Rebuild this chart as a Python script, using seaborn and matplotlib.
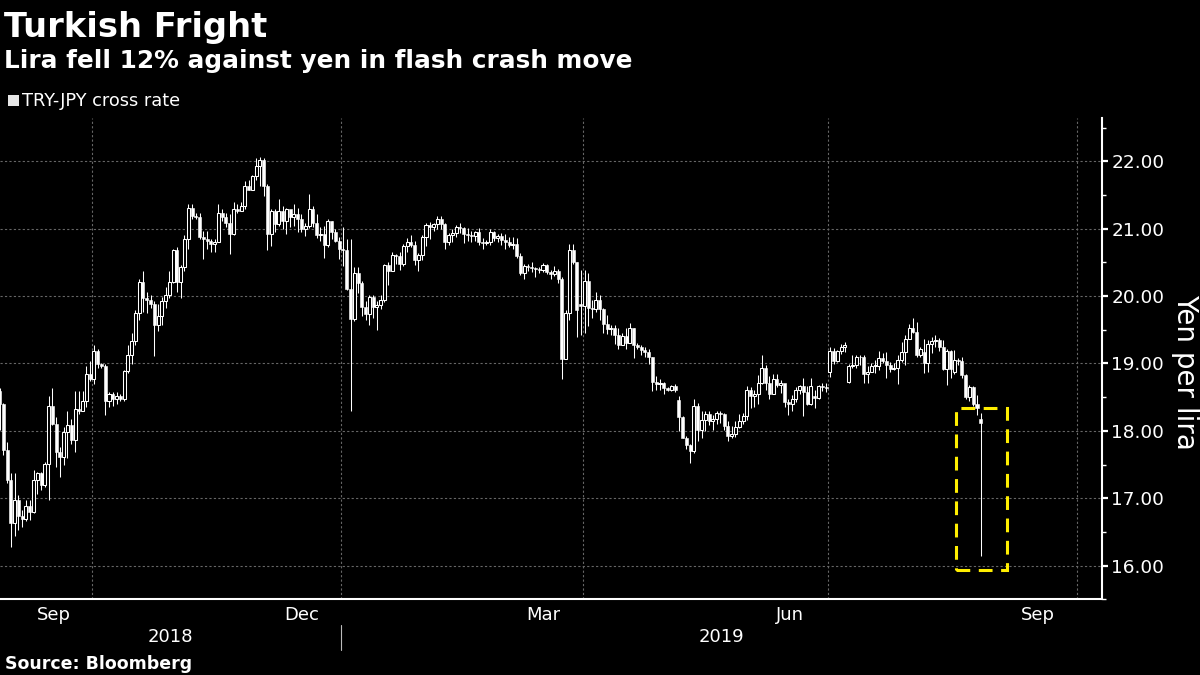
import numpy as np
import pandas as pd
import matplotlib
matplotlib.use("Agg")
import matplotlib.pyplot as plt
import matplotlib.transforms as mtransforms
from matplotlib.patches import Rectangle
import seaborn as sns

# ---------------- data (TRY-JPY daily candles) ----------------
start_date = "2018-08-27"
end_date = "2019-08-26"

opens = [
    18.59, 18.40, 17.71, 17.27, 16.63, 16.98, 16.73, 16.69, 16.88, 16.80,
    17.27, 17.37, 17.20, 17.51, 18.37, 18.10, 17.69, 17.61, 17.98, 18.08,
    17.86, 18.32, 18.30, 18.45, 18.84, 18.77, 19.18, 18.99, 18.96, 18.45,
    18.54, 18.47, 18.51, 18.47, 18.89, 19.13, 19.33, 19.75, 20.21, 19.97,
    19.94, 19.89, 19.57, 19.70, 19.92, 20.02, 20.21, 20.68, 20.21, 20.43,
    20.85, 21.31, 21.19, 21.17, 20.87, 20.85, 20.82, 20.78, 20.81, 21.24,
    21.17, 21.09, 20.92, 21.29, 21.27, 21.34, 21.63, 21.58, 21.78, 21.93,
    22.02, 21.63, 20.92, 21.27, 21.07, 21.27, 21.12, 21.29, 21.17, 21.22,
    21.14, 21.00, 21.04, 21.29, 21.09, 20.90, 20.92, 20.76, 21.12, 20.95,
    20.82, 20.70, 20.69, 20.11, 19.66, 20.34, 20.19, 19.84, 19.74, 19.98,
    19.84, 19.87, 19.94, 20.46, 20.38, 20.61, 20.59, 20.47, 20.75, 20.80,
    20.76, 20.53, 20.61, 20.87, 21.06, 21.03, 21.07, 21.14, 21.07, 20.81,
    20.91, 20.94, 21.03, 21.01, 20.92, 20.91, 20.89, 20.95, 20.81, 20.79,
    20.80, 20.95, 20.86, 20.89, 20.84, 20.81, 20.76, 20.77, 20.59, 20.35,
    20.44, 20.43, 20.42, 20.40, 20.39, 20.46, 20.36, 20.33, 20.38, 20.25,
    19.07, 19.75, 20.68, 20.50, 19.89, 19.86, 20.22, 19.82, 19.81, 19.94,
    19.81, 19.58, 19.51, 19.53, 19.42, 19.28, 19.41, 19.30, 19.53, 19.27,
    19.25, 19.20, 19.17, 19.09, 18.73, 18.69, 18.71, 18.64, 18.61, 18.66,
    18.46, 18.21, 17.90, 17.79, 17.70, 18.37, 18.02, 18.16, 18.25, 18.14,
    18.17, 18.27, 18.25, 18.07, 17.93, 17.96, 18.06, 18.14, 18.22, 18.60,
    18.51, 18.54, 18.71, 18.93, 18.71, 18.55, 18.77, 18.68, 18.71, 18.43,
    18.40, 18.47, 18.60, 18.66, 18.58, 18.40, 18.51, 18.49, 18.66, 18.65,
    18.87, 19.18, 19.03, 19.18, 19.24, 18.72, 18.96, 18.98, 19.10, 19.09,
    18.84, 18.88, 18.96, 18.97, 19.08, 19.04, 18.98, 18.92, 18.94, 19.05,
    19.17, 19.37, 19.53, 19.47, 19.13, 19.17, 19.01, 19.29, 19.33, 19.35,
    19.24, 18.92, 19.19, 18.87, 19.05, 19.03, 18.83, 18.50, 18.65, 18.40,
    18.18,
]

highs = [
    18.64, 18.42, 17.83, 17.37, 17.37, 17.05, 16.83, 16.98, 16.98, 17.42,
    17.39, 17.39, 17.54, 18.52, 18.64, 18.20, 17.76, 18.05, 18.30, 18.18,
    18.59, 18.59, 18.59, 18.96, 19.03, 19.28, 19.21, 19.01, 18.99, 18.57,
    18.57, 18.57, 18.54, 18.91, 19.28, 19.45, 19.79, 20.26, 20.38, 20.06,
    20.02, 19.92, 19.89, 19.99, 20.14, 20.38, 20.70, 20.73, 20.46, 20.90,
    21.36, 21.36, 21.24, 21.24, 20.97, 20.97, 20.85, 20.85, 21.36, 21.29,
    21.24, 21.22, 21.39, 21.36, 21.39, 21.71, 21.73, 21.80, 22.05, 22.07,
    22.05, 21.66, 21.29, 21.29, 21.44, 21.34, 21.31, 21.24, 21.36, 21.31,
    21.22, 21.09, 21.52, 21.34, 21.22, 21.02, 21.04, 21.14, 21.12, 21.00,
    20.87, 21.03, 20.85, 20.85, 20.43, 20.43, 20.22, 19.92, 20.02, 20.02,
    19.92, 20.02, 20.48, 20.50, 20.65, 20.63, 20.65, 20.77, 20.86, 20.90,
    20.82, 20.64, 20.90, 21.08, 21.10, 21.09, 21.19, 21.19, 21.09, 20.94,
    21.00, 21.05, 21.09, 21.03, 21.01, 20.96, 20.97, 21.01, 20.86, 20.84,
    20.99, 20.97, 20.92, 20.94, 20.92, 20.88, 20.87, 20.86, 20.64, 20.47,
    20.48, 20.51, 20.43, 20.43, 20.49, 20.48, 20.39, 20.44, 20.40, 20.29,
    19.80, 20.77, 20.77, 20.51, 20.39, 20.39, 20.35, 19.94, 20.06, 20.02,
    19.82, 19.72, 19.57, 19.57, 19.52, 19.45, 19.52, 19.60, 19.53, 19.31,
    19.27, 19.25, 19.22, 19.10, 18.81, 18.77, 18.73, 18.65, 18.68, 18.70,
    18.52, 18.22, 17.93, 17.81, 18.47, 18.42, 18.29, 18.29, 18.29, 18.24,
    18.30, 18.30, 18.27, 18.14, 18.07, 18.14, 18.25, 18.27, 18.66, 18.65,
    18.60, 18.83, 19.13, 18.98, 18.81, 18.84, 18.84, 18.76, 18.70, 18.47,
    18.53, 18.65, 18.68, 18.78, 18.66, 18.79, 18.60, 18.68, 18.71, 18.71,
    19.24, 19.23, 19.20, 19.29, 19.32, 18.99, 19.13, 19.13, 19.12, 19.12,
    18.96, 19.01, 19.05, 19.19, 19.15, 19.17, 19.02, 19.01, 19.13, 19.32,
    19.42, 19.58, 19.68, 19.62, 19.25, 19.36, 19.35, 19.40, 19.43, 19.38,
    19.35, 19.22, 19.20, 19.20, 19.08, 19.10, 18.84, 18.68, 18.66, 18.53,
    18.26,
]

lows = [
    18.01, 17.64, 17.22, 16.27, 16.44, 16.53, 16.58, 16.66, 16.68, 16.78,
    17.07, 17.12, 17.17, 16.98, 18.08, 17.47, 17.32, 17.49, 17.59, 17.81,
    17.69, 18.25, 18.30, 18.35, 18.74, 18.69, 18.94, 18.94, 18.23, 18.35,
    18.37, 18.40, 18.45, 18.45, 18.86, 18.99, 19.28, 19.65, 19.77, 19.75,
    19.82, 19.11, 19.48, 19.57, 19.82, 19.97, 20.19, 20.06, 19.97, 20.38,
    20.70, 21.14, 21.14, 20.85, 20.55, 20.70, 20.65, 20.65, 20.80, 21.12,
    21.02, 20.63, 20.90, 21.24, 21.27, 21.29, 21.57, 21.58, 21.73, 21.63,
    21.49, 20.68, 20.75, 20.95, 21.04, 21.00, 20.92, 21.02, 21.04, 20.95,
    20.95, 20.89, 21.01, 21.02, 20.86, 20.82, 20.56, 20.73, 20.85, 20.80,
    20.55, 20.45, 20.09, 18.29, 19.63, 20.05, 19.70, 19.65, 19.57, 19.67,
    19.50, 19.81, 19.91, 20.17, 20.37, 20.48, 20.39, 20.45, 20.66, 20.73,
    20.46, 20.38, 20.53, 20.74, 20.85, 20.96, 21.00, 20.99, 20.70, 20.76,
    20.81, 20.87, 20.94, 20.79, 20.82, 20.80, 20.82, 20.76, 20.70, 20.76,
    20.76, 20.82, 20.81, 20.76, 20.70, 20.73, 20.70, 20.57, 20.31, 20.25,
    20.37, 20.36, 20.28, 20.34, 20.36, 20.33, 20.26, 20.30, 20.20, 18.77,
    19.08, 19.64, 20.48, 19.40, 19.42, 19.45, 19.56, 19.67, 19.77, 19.64,
    19.45, 19.44, 19.42, 19.29, 19.22, 19.27, 19.22, 19.30, 19.08, 19.22,
    19.13, 19.10, 18.99, 18.59, 18.60, 18.61, 18.55, 18.59, 18.59, 18.58,
    18.00, 17.89, 17.73, 17.52, 17.67, 17.85, 17.90, 18.00, 18.09, 18.01,
    18.10, 18.12, 18.02, 17.85, 17.90, 17.91, 18.04, 18.10, 18.16, 18.34,
    18.35, 18.40, 18.69, 18.61, 18.47, 18.54, 18.65, 18.56, 18.35, 18.24,
    18.29, 18.43, 18.55, 18.22, 18.39, 18.39, 18.34, 18.47, 18.59, 18.58,
    18.80, 18.99, 19.02, 19.14, 19.17, 18.71, 18.93, 18.93, 18.98, 18.71,
    18.71, 18.87, 18.86, 18.91, 19.00, 18.78, 18.88, 18.91, 18.70, 19.02,
    18.98, 19.36, 19.45, 19.10, 19.10, 18.86, 18.88, 19.15, 19.25, 19.19,
    18.91, 18.68, 18.78, 18.84, 18.98, 18.78, 18.48, 18.44, 18.37, 18.24,
    16.15,
]

closes = [
    18.40, 17.71, 17.27, 16.63, 16.98, 16.73, 16.69, 16.88, 16.80, 17.27,
    17.37, 17.20, 17.51, 18.37, 18.10, 17.69, 17.61, 17.98, 18.08, 17.86,
    18.32, 18.30, 18.45, 18.84, 18.77, 19.18, 18.99, 18.96, 18.45, 18.54,
    18.47, 18.51, 18.47, 18.89, 19.13, 19.33, 19.75, 20.21, 19.97, 19.94,
    19.89, 19.57, 19.70, 19.92, 20.02, 20.21, 20.68, 20.21, 20.43, 20.85,
    21.31, 21.19, 21.17, 20.87, 20.85, 20.82, 20.78, 20.81, 21.24, 21.17,
    21.09, 20.92, 21.29, 21.27, 21.34, 21.63, 21.58, 21.78, 21.93, 22.02,
    21.63, 20.92, 21.27, 21.07, 21.27, 21.12, 21.29, 21.17, 21.22, 21.14,
    21.00, 21.04, 21.29, 21.09, 20.90, 20.92, 20.76, 21.12, 20.95, 20.82,
    20.70, 20.69, 20.11, 19.66, 20.34, 20.19, 19.84, 19.74, 19.98, 19.84,
    19.87, 19.94, 20.46, 20.38, 20.61, 20.59, 20.47, 20.75, 20.80, 20.76,
    20.53, 20.61, 20.87, 21.06, 21.03, 21.07, 21.14, 21.07, 20.81, 20.91,
    20.94, 21.03, 21.01, 20.92, 20.91, 20.89, 20.95, 20.81, 20.79, 20.80,
    20.95, 20.86, 20.89, 20.84, 20.81, 20.76, 20.77, 20.59, 20.35, 20.44,
    20.43, 20.42, 20.40, 20.39, 20.46, 20.36, 20.33, 20.38, 20.25, 19.07,
    19.75, 20.68, 20.50, 19.79, 19.86, 20.22, 19.82, 19.81, 19.94, 19.81,
    19.58, 19.51, 19.53, 19.42, 19.28, 19.41, 19.30, 19.53, 19.27, 19.25,
    19.20, 19.17, 19.09, 18.73, 18.69, 18.71, 18.64, 18.61, 18.66, 18.60,
    18.21, 17.90, 17.79, 17.70, 18.37, 18.02, 18.16, 18.25, 18.14, 18.17,
    18.27, 18.25, 18.07, 17.93, 17.96, 18.06, 18.14, 18.22, 18.60, 18.51,
    18.54, 18.71, 18.93, 18.71, 18.55, 18.77, 18.68, 18.71, 18.43, 18.40,
    18.47, 18.60, 18.66, 18.58, 18.40, 18.66, 18.49, 18.66, 18.65, 18.63,
    19.18, 19.03, 19.18, 19.24, 19.27, 18.96, 18.98, 19.10, 19.09, 18.84,
    18.88, 18.96, 18.97, 19.08, 19.04, 18.98, 18.92, 18.94, 19.05, 19.17,
    19.37, 19.53, 19.47, 19.13, 19.22, 19.01, 19.29, 19.33, 19.35, 19.24,
    18.92, 19.19, 18.92, 19.05, 19.03, 18.83, 18.50, 18.65, 18.40, 18.34,
    18.12,
]

y_ticks = [16, 17, 18, 19, 20, 21, 22]
month_labels = {9: "Sep", 12: "Dec", 3: "Mar", 6: "Jun"}
title = "Turkish Fright"
subtitle = "Lira fell 12% against yen in flash crash move"
legend_label = "TRY-JPY cross rate"
y_label = "Yen per lira"
source = "Source: Bloomberg"

# ---------------- style ----------------
BG = "black"
FG = "white"
GRID = "#666666"
YELLOW = "#FFEE00"

sns.set_theme(style="dark", rc={
    "axes.facecolor": BG, "figure.facecolor": BG, "savefig.facecolor": BG,
    "axes.edgecolor": FG, "text.color": FG, "xtick.color": FG, "ytick.color": FG,
    "axes.labelcolor": FG, "axes.grid": False,
})
plt.rcParams["font.family"] = ["DejaVu Sans"]

W, H = 1200, 675
fig = plt.figure(figsize=(W / 100, H / 100), dpi=100)
ax = fig.add_axes([0, 1 - 599.3 / H, 1101.7 / W, (599.3 - 118.3) / H])

dates = pd.bdate_range(start_date, end_date)
n = len(closes)
x = np.arange(n)
o = np.array(opens)
c = np.array(closes)
hi = np.array(highs)
lo = np.array(lows)

# wicks
ax.vlines(x, lo, hi, color=FG, linewidth=0.75, zorder=3)
# bodies: hollow when the rate rose, filled when it fell
up = c >= o
bottoms = np.minimum(o, c)
heights = np.maximum(np.abs(c - o), 0.012)
ax.bar(x[up], heights[up], bottom=bottoms[up], width=0.8, facecolor=BG,
       edgecolor=FG, linewidth=0.75, zorder=4)
ax.bar(x[~up], heights[~up], bottom=bottoms[~up], width=0.8, facecolor=FG,
       edgecolor=FG, linewidth=0.4, zorder=4)

# ---------------- axes ----------------
cal = pd.bdate_range(start_date, "2019-10-31")
month_starts = [i for i in range(1, len(cal)) if cal[i].month != cal[i - 1].month]
bounds = [i - 0.5 for i in month_starts]
x_left, x_right = 0.12, 292.04
ax.set_xlim(x_left, x_right)
ax.set_ylim(15.558, 22.639)

lab_pos, lab_txt = [], []
for k in range(len(month_starts) - 1):
    m = cal[month_starts[k]].month
    if m in month_labels:
        lab_pos.append((bounds[k] + bounds[k + 1]) / 2)
        lab_txt.append(month_labels[m])
ax.set_xticks(lab_pos)
ax.set_xticklabels(lab_txt)
ax.set_xticks(bounds, minor=True)
ax.tick_params(axis="x", which="major", length=0, pad=5, labelsize=13, colors=FG)
ax.tick_params(axis="x", which="minor", length=3, width=1, direction="out", colors=FG)

ax.yaxis.tick_right()
ax.set_yticks(y_ticks)
ax.set_yticklabels([f"{v:.2f}" for v in y_ticks])
ax.set_yticks([v + 0.5 for v in range(15, 23)], minor=True)
ax.tick_params(axis="y", which="major", length=4, width=1.6, pad=3, labelsize=13.3, colors=FG)
ax.tick_params(axis="y", which="minor", length=3, width=1, colors=FG)

for s in ["left", "top"]:
    ax.spines[s].set_visible(False)
for s in ["right", "bottom"]:
    ax.spines[s].set_color(FG)
    ax.spines[s].set_linewidth(1.5)

# grid
for v in y_ticks:
    ax.axhline(v, color=GRID, linewidth=0.8, linestyle=(0, (2, 2)), zorder=1)
quarter_bounds = [bounds[k] for k in range(len(month_starts))
                  if cal[month_starts[k]].month in (1, 4, 7, 10)]
for b in quarter_bounds:
    ax.axvline(b, color=GRID, linewidth=0.8, linestyle=(0, (2, 2)), zorder=1)

# year labels
blend = mtransforms.blended_transform_factory(ax.transData, ax.transAxes)
jan_b = [bounds[k] for k in range(len(month_starts))
         if cal[month_starts[k]].month == 1][0]
ax.text((x_left + jan_b) / 2, -0.078, "2018", transform=blend, ha="center",
        va="center", fontsize=13, color=FG)
ax.text((jan_b + x_right) / 2, -0.078, "2019", transform=blend, ha="center",
        va="center", fontsize=13, color=FG)
ax.plot([jan_b, jan_b], [-0.053, -0.105], transform=blend, color="#bbbbbb",
        linewidth=0.8, clip_on=False)

# highlight box around the flash-crash candle
crash = n - 1
box_left = x[crash] - 6.5
box_right = x[crash] + 6.9
box_bottom = lows[crash] - 0.21
box_top = highs[crash] + 0.08
ax.add_patch(Rectangle((box_left, box_bottom), box_right - box_left,
                       box_top - box_bottom, fill=False, edgecolor=YELLOW,
                       linewidth=2.2, linestyle=(0, (4.5, 2.8)), zorder=5))

# ---------------- texts ----------------
fig.text(4 / W, 1 - 37 / H, title, fontsize=24.3, fontweight="bold", color=FG,
         va="baseline", ha="left")
fig.text(4 / W, 1 - 68 / H, subtitle, fontsize=17.8, fontweight="bold", color=FG,
         va="baseline", ha="left")
fig.patches.append(Rectangle((8 / W, 1 - 106 / H), 11 / W, 11 / H,
                             transform=fig.transFigure, facecolor="#e6e6e6",
                             edgecolor="none"))
fig.text(22 / W, 1 - 106 / H, legend_label, fontsize=12.8, color=FG,
         va="baseline", ha="left")
fig.text(1185 / W, 1 - 372 / H, y_label, fontsize=20, color=FG, rotation=270,
         ha="center", va="center")
fig.text(5 / W, 1 - 669 / H, source, fontsize=12.5, fontweight="bold", color=FG,
         va="baseline", ha="left")

fig.savefig("out.png", dpi=100, facecolor=BG)
